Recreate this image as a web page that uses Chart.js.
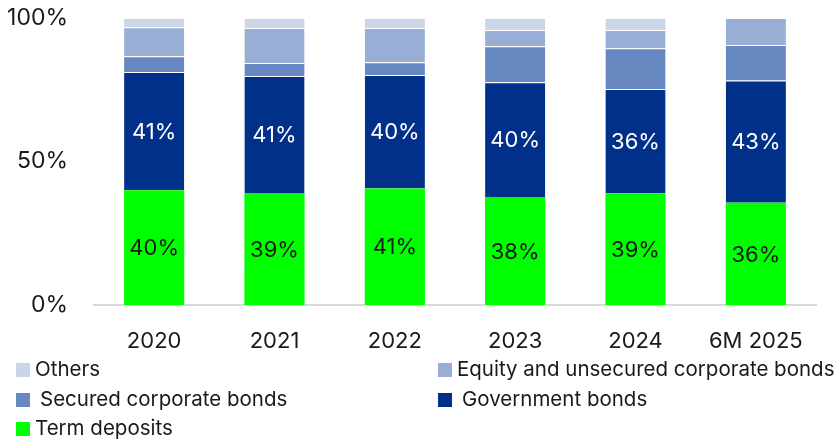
<!DOCTYPE html>
<html>
<head>
<meta charset="utf-8">
<script src="https://cdn.jsdelivr.net/npm/chart.js@4.4.1/dist/chart.umd.min.js"></script>
<style>
  html, body { margin: 0; padding: 0; background: #fff; }
  #wrap { position: relative; width: 840px; height: 440px; }
  #c { position: absolute; left: 0; top: 0; }
  .lg { position: absolute; font-family: Inter, sans-serif; font-size: 20.5px; color: #1a1a1a; white-space: nowrap; line-height: 24px; }
  .lg .box { position: absolute; width: 14px; height: 14px; top: 6px; left: 0; }
</style>
</head>
<body>
<div id="wrap">
  <canvas id="c" width="840" height="440"></canvas>
</div>
<script>
const categories = ['2020', '2021', '2022', '2023', '2024', '6M 2025'];
const seriesNames = ['Term deposits', 'Government bonds', 'Secured corporate bonds', 'Equity and unsecured corporate bonds', 'Others'];
const termDeposits = [40.0, 39.0, 40.6, 37.6, 38.9, 35.6];
const governmentBonds = [41.2, 40.8, 39.5, 40.0, 36.4, 42.6];
const securedCorporateBonds = [5.5, 4.5, 4.5, 12.6, 14.2, 12.4];
const equityUnsecuredBonds = [10.1, 12.2, 11.9, 5.6, 6.3, 9.4];
const others = [3.2, 3.5, 3.5, 4.2, 4.2, 0];
const yTicks = [0, 50, 100];

const seriesValues = [termDeposits, governmentBonds, securedCorporateBonds, equityUnsecuredBonds, others];
const colors = ['#00ff00', '#00308a', '#6687c0', '#98aed4', '#cbd5e8'];
const labelColors = ['#1a1a1a', '#ffffff', null, null, null];

const FONT = 'Inter, sans-serif';

const datasets = seriesNames.map((name, i) => ({
  label: name,
  data: seriesValues[i],
  backgroundColor: colors[i],
  borderColor: 'rgba(255,255,255,0.35)',
  borderWidth: { top: i === 0 ? 0 : 1, left: 0, right: 0, bottom: 0 },
  borderSkipped: false,
  categoryPercentage: 1,
  barPercentage: 0.5
}));

const valueLabels = {
  id: 'valueLabels',
  afterDatasetsDraw(chart) {
    const ctx = chart.ctx;
    ctx.save();
    ctx.font = '22px ' + FONT;
    ctx.textAlign = 'center';
    ctx.textBaseline = 'middle';
    chart.data.datasets.forEach((ds, di) => {
      if (!labelColors[di]) return;
      const meta = chart.getDatasetMeta(di);
      meta.data.forEach((bar, j) => {
        const v = ds.data[j];
        if (!v) return;
        ctx.fillStyle = labelColors[di];
        ctx.fillText(Math.round(v) + '%', bar.x, (bar.y + bar.base) / 2 + 1);
      });
    });
    ctx.restore();
  }
};

new Chart(document.getElementById('c'), {
  type: 'bar',
  data: { labels: categories, datasets },
  options: {
    responsive: false,
    animation: false,
    layout: { padding: { top: 18, right: 24, bottom: 86, left: 0 } },
    plugins: { legend: { display: false }, tooltip: { enabled: false } },
    scales: {
      x: {
        stacked: true,
        grid: { display: false },
        border: { display: true, color: '#d9d9d9', width: 2 },
        afterFit(scale) { scale.height = 49; scale.paddingLeft = 0; scale.paddingRight = 0; },
        ticks: { color: '#1a1a1a', font: { family: FONT, size: 22 }, padding: 15, maxRotation: 0 }
      },
      y: {
        stacked: true,
        min: 0, max: 100,
        afterBuildTicks(scale) { scale.ticks = yTicks.map(v => ({ value: v })); },
        afterFit(scale) { scale.width = 94; scale.paddingTop = 0; scale.paddingBottom = 0; },
        grid: { display: false, drawTicks: false },
        border: { display: false },
        ticks: { color: '#1a1a1a', font: { family: FONT, size: 23 }, padding: 26, callback: v => v + '%' }
      }
    }
  },
  plugins: [valueLabels]
});

// HTML legend, two columns, top-to-bottom order as in the source
const legendOrder = [4, 3, 2, 1, 0];
const legendPos = [
  { left: 16, top: 357, gap: 19 },
  { left: 438, top: 357, gap: 19 },
  { left: 16, top: 387, gap: 24 },
  { left: 438, top: 387, gap: 24 },
  { left: 16, top: 416, gap: 19 }
];
const wrap = document.getElementById('wrap');
legendOrder.forEach((si, k) => {
  const p = legendPos[k];
  const item = document.createElement('div');
  item.className = 'lg';
  item.style.left = p.left + 'px';
  item.style.top = p.top + 'px';
  item.style.paddingLeft = p.gap + 'px';
  const box = document.createElement('span');
  box.className = 'box';
  box.style.background = colors[si];
  item.appendChild(box);
  item.appendChild(document.createTextNode(seriesNames[si]));
  wrap.appendChild(item);
});
</script>
</body>
</html>
